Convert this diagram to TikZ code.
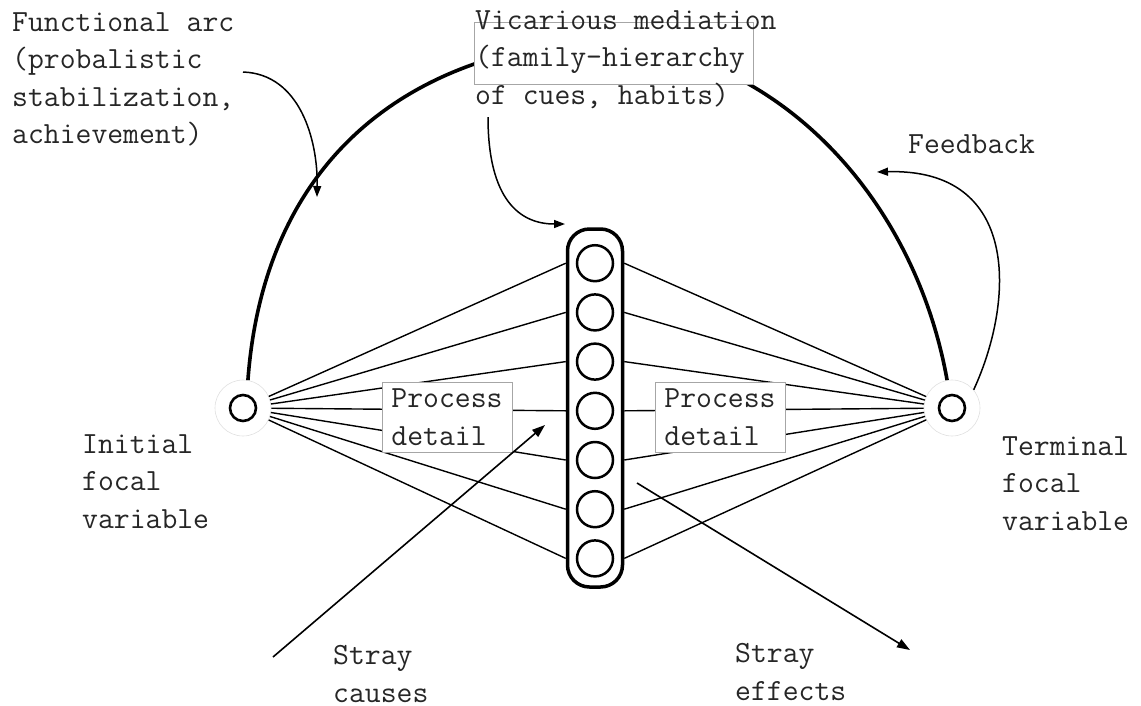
\documentclass[tikz,border=0pt]{standalone}
\usepackage{fontspec}
\usetikzlibrary{arrows.meta, positioning, calc}

\begin{document}
\begin{tikzpicture}[
  x=1pt, y=-1pt,
  every node/.style={font=\ttfamily\fontsize{30.8}{37.5}\selectfont, text=black!85},
  txt/.style={anchor=base west, align=left, inner sep=0pt},
  focal/.style={circle, minimum size=56pt, inner sep=0pt, fill=white,
                draw=black!12, line width=0.6pt,
                path picture={\draw[draw=black, line width=2.6pt]
                  (path picture bounding box.center) circle (13pt);}},
  column/.style={rectangle, rounded corners=22pt, draw, line width=3.5pt,
                 minimum width=55pt, minimum height=358pt, inner sep=0pt},
  cue/.style={circle, draw, line width=2.5pt, minimum size=36pt, inner sep=0pt},
  procbox/.style={rectangle, draw=black!35, fill=white, line width=0.8pt,
                  minimum width=130pt, minimum height=70pt, align=left, inner sep=0pt},
  fan/.style={line width=1.4pt},
  arcline/.style={line width=3.6pt},
  note/.style={-{Triangle[length=11pt, width=8pt]}, line width=1.5pt},
  stray/.style={-{Triangle[length=13pt, width=9pt]}, line width=1.6pt}
]
\useasboundingbox (0,0) rectangle (1141,705);

% === Focal variables and the mediation column ===
\node[focal] (init) at (243,408) {};
\node[focal] (term) at (952,408) {};
\node[column] (col) at (595,408) {};
\foreach \i in {1,...,7}
  \node[cue] (c\i) at (595, {214+49.2*\i}) {};

% === Fan of cues ===
\foreach \i in {1,...,7} {
  \draw[fan] (init) -- (col.west |- c\i);
  \draw[fan] (term) -- (col.east |- c\i);
}

% === Functional arc, hidden behind the mediation box ===
\coordinate (apex) at (600,40);
\draw[arcline] (init.80) .. controls (265,150) and (420,50) .. (apex)
  .. controls (780,50) and (915,200) .. (term.100);
\node[procbox, minimum width=279pt, minimum height=62pt] (vicbox) at (613.5,53) {};

% === Process detail boxes ===
\node[procbox] (procleft) at (447,417) {Process\\detail};
\node[procbox] (procright) at (720,417) {Process\\detail};

% === Annotation arrows ===
\coordinate (funcfrom) at (243,72);
\coordinate (functo) at (317,197);
\draw[note] (funcfrom) .. controls (300,74) and (318,140) .. (functo);

\coordinate (vicfrom) at (488,117);
\coordinate (victo) at (565,224);
\draw[note] (vicfrom) .. controls (488,200) and (520,224) .. (victo);

\coordinate (fbto) at (877,172);
\draw[note] (term.40) .. controls (1015,300) and (1020,168) .. (fbto);

% === Stray causes and effects ===
\coordinate (causefoot) at (273,657);
\coordinate (causetip) at (545,425);
\draw[stray] (causefoot) -- (causetip);

\coordinate (effstart) at (637,483);
\coordinate (efftip) at (910,650);
\draw[stray] (effstart) -- (efftip);

% === Labels (anchored at the last line) ===
\node[txt] (funclabel) at (12,143.5) {Functional arc\\(probalistic\\stabilization,\\achievement)};
\node[txt] (viclabel) at (475,104) {Vicarious mediation\\(family-hierarchy\\of cues, habits)};
\node[txt] (fblabel) at (908,153) {Feedback};
\node[txt] (initlabel) at (82,528) {Initial\\focal\\variable};
\node[txt] (termlabel) at (1002,530) {Terminal\\focal\\variable};
\node[txt] (causelabel) at (333,702) {Stray\\causes};
\node[txt] (efflabel) at (735,700) {Stray\\effects};

\end{tikzpicture}
\end{document}
